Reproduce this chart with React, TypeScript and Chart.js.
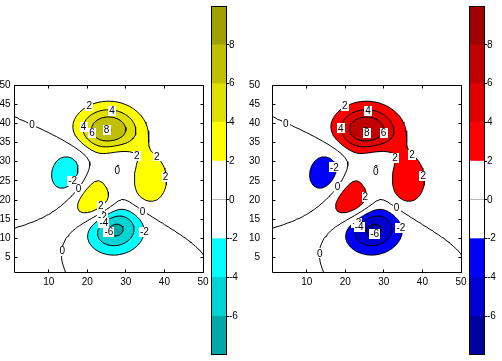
import React, { useEffect, useRef } from 'react';
import { Chart, registerables } from 'chart.js';

Chart.register(...registerables);

const FONT = { family: '"Liberation Sans", Arial, Helvetica, sans-serif', size: 10 };

const X_TICKS = [10, 20, 30, 40, 50];
const Y_TICKS = [5, 10, 15, 20, 25, 30, 35, 40, 45, 50];
const AXIS_RANGE = [1, 50];

const LEVELS = [-6, -4, -2, 0, 2, 4, 6, 8];
const BAND_EDGES = [-8, -6, -4, -2, 0, 2, 4, 6, 8, 10];
const COLORBAR_TICKS = [-6, -4, -2, 0, 2, 4, 6, 8];
const LEFT_COLORS = ['#00a8a8', '#00d4d4', '#00ffff', '#ffffff', '#ffffff', '#ffff00', '#e0e000', '#c0c000', '#a0a000'];
const RIGHT_COLORS = ['#0000a0', '#0000d0', '#0000ff', '#ffffff', '#ffffff', '#ff0000', '#e00000', '#c00000', '#a00000'];

const GRID_SIZE = 50;
const DOMAIN = [-3, 3];
function peaks(x: number, y: number): number {
  return (
    3 * (1 - x) ** 2 * Math.exp(-x * x - (y + 1) ** 2) -
    10 * (x / 5 - x ** 3 - y ** 5) * Math.exp(-x * x - y * y) -
    (1 / 3) * Math.exp(-((x + 1) ** 2) - y * y)
  );
}

const LEFT_LABELS: [string, number, number][] = [
  ['2', 20.5, 44.5], ['4', 26.4, 43.2], ['4', 19.0, 39.1], ['6', 21.2, 37.6], ['8', 25.0, 38.3],
  ['2', 32.8, 31.6], ['2', 38.0, 31.4], ['2', 40.3, 26.0], ['0', 27.8, 27.7],
  ['-2', 16.2, 25.0], ['0', 17.7, 22.9], ['2', 23.5, 18.5], ['0', 34.3, 16.9],
  ['-2', 23.9, 15.7], ['-4', 24.3, 14.1], ['-6', 25.6, 11.7], ['-2', 34.8, 11.8],
  ['0', 13.5, 6.8], ['0', 5.7, 39.6],
];
const RIGHT_LABELS: [string, number, number][] = [
  ['2', 19.9, 44.6], ['4', 25.9, 43.2], ['4', 18.8, 38.7], ['8', 25.6, 37.6], ['6', 29.9, 37.6],
  ['2', 32.9, 31.0], ['2', 37.3, 31.7], ['2', 40.2, 26.3], ['0', 27.9, 27.4],
  ['-2', 17.2, 28.5], ['0', 18.0, 23.5], ['2', 25.2, 20.9], ['0', 33.3, 18.0],
  ['-2', 23.0, 14.1], ['-4', 23.6, 13.1], ['-6', 27.6, 11.1], ['-2', 34.4, 12.7],
  ['0', 13.4, 6.1], ['0', 4.6, 40.0],
];

function buildGrid(): number[][] {
  const Z: number[][] = [];
  for (let i = 0; i < GRID_SIZE; i++) {
    const yv = DOMAIN[0] + ((DOMAIN[1] - DOMAIN[0]) * i) / (GRID_SIZE - 1);
    const row: number[] = [];
    for (let j = 0; j < GRID_SIZE; j++) {
      const xv = DOMAIN[0] + ((DOMAIN[1] - DOMAIN[0]) * j) / (GRID_SIZE - 1);
      row.push(peaks(xv, yv));
    }
    Z.push(row);
  }
  return Z;
}
const Z = buildGrid();

function sample(x: number, y: number): number {
  const N = GRID_SIZE;
  const gx = Math.min(Math.max(x - 1, 0), N - 1);
  const gy = Math.min(Math.max(y - 1, 0), N - 1);
  const j = Math.min(Math.floor(gx), N - 2);
  const i = Math.min(Math.floor(gy), N - 2);
  const fx = gx - j;
  const fy = gy - i;
  return (
    Z[i][j] * (1 - fx) * (1 - fy) +
    Z[i][j + 1] * fx * (1 - fy) +
    Z[i + 1][j] * (1 - fx) * fy +
    Z[i + 1][j + 1] * fx * fy
  );
}

type Pt = [number, number];

function contourLines(level: number): Pt[][] {
  const N = GRID_SIZE;
  const segs: [Pt, Pt][] = [];
  const edgePt = (i1: number, j1: number, i2: number, j2: number): Pt => {
    const v1 = Z[i1][j1];
    const v2 = Z[i2][j2];
    const t = (level - v1) / (v2 - v1);
    return [j1 + 1 + t * (j2 - j1), i1 + 1 + t * (i2 - i1)];
  };
  for (let i = 0; i < N - 1; i++) {
    for (let j = 0; j < N - 1; j++) {
      const a = Z[i][j], b = Z[i][j + 1], c = Z[i + 1][j + 1], d = Z[i + 1][j];
      const A = a >= level, B = b >= level, C = c >= level, D = d >= level;
      const bottom = A !== B ? edgePt(i, j, i, j + 1) : null;
      const right = B !== C ? edgePt(i, j + 1, i + 1, j + 1) : null;
      const top = D !== C ? edgePt(i + 1, j, i + 1, j + 1) : null;
      const left = A !== D ? edgePt(i, j, i + 1, j) : null;
      const pts = [bottom, right, top, left].filter((p) => p) as Pt[];
      if (pts.length === 2) segs.push([pts[0], pts[1]]);
      else if (pts.length === 4) {
        const center = (a + b + c + d) / 4;
        if ((center >= level) === A) {
          segs.push([bottom!, right!]);
          segs.push([top!, left!]);
        } else {
          segs.push([bottom!, left!]);
          segs.push([right!, top!]);
        }
      }
    }
  }
  const key = (p: Pt) => p[0].toFixed(6) + ',' + p[1].toFixed(6);
  const adj = new Map<string, number[]>();
  segs.forEach((s, k) => {
    for (const p of s) {
      const kk = key(p);
      if (!adj.has(kk)) adj.set(kk, []);
      adj.get(kk)!.push(k);
    }
  });
  const used = new Array(segs.length).fill(false);
  const lines: Pt[][] = [];
  const extend = (line: Pt[], end: Pt, forward: boolean) => {
    let cur = end;
    for (;;) {
      const cand = (adj.get(key(cur)) || []).find((k) => !used[k]);
      if (cand === undefined) break;
      used[cand] = true;
      const s = segs[cand];
      const next = key(s[0]) === key(cur) ? s[1] : s[0];
      if (forward) line.push(next);
      else line.unshift(next);
      cur = next;
    }
  };
  segs.forEach((s, k) => {
    if (used[k]) return;
    used[k] = true;
    const line: Pt[] = [s[0], s[1]];
    extend(line, s[1], true);
    extend(line, s[0], false);
    lines.push(line);
  });
  return lines;
}

const CONTOUR_LINES: Pt[][] = LEVELS.flatMap((lv) => contourLines(lv));

function bandIndex(v: number): number {
  let k = 0;
  for (const lv of LEVELS) if (v >= lv) k++;
  return k;
}

function hexToRgb(h: string): [number, number, number] {
  return [parseInt(h.slice(1, 3), 16), parseInt(h.slice(3, 5), 16), parseInt(h.slice(5, 7), 16)];
}

type ContourProps = {
  colors: string[];
  labels: [string, number, number][];
  left: number;
  canvasWidth: number;
  yWidth: number;
  yPad: number;
};

function ContourChart({ colors, labels, left, canvasWidth, yWidth, yPad }: ContourProps) {
  const ref = useRef<HTMLCanvasElement>(null);
  useEffect(() => {
    const rgb = colors.map(hexToRgb);
    const fillPlugin = {
      id: 'contourFill',
      beforeDatasetsDraw(chart: any) {
        const { ctx, chartArea } = chart;
        const xs = chart.scales.x;
        const ys = chart.scales.y;
        const l = Math.round(chartArea.left), t = Math.round(chartArea.top);
        const w = Math.round(chartArea.right) - l;
        const h = Math.round(chartArea.bottom) - t;
        const off = document.createElement('canvas');
        off.width = w;
        off.height = h;
        const octx = off.getContext('2d')!;
        const img = octx.createImageData(w, h);
        for (let py = 0; py < h; py++) {
          const yv = ys.getValueForPixel(t + py + 0.5);
          for (let px = 0; px < w; px++) {
            const xv = xs.getValueForPixel(l + px + 0.5);
            const c = rgb[bandIndex(sample(xv, yv))];
            const o = (py * w + px) * 4;
            img.data[o] = c[0];
            img.data[o + 1] = c[1];
            img.data[o + 2] = c[2];
            img.data[o + 3] = 255;
          }
        }
        octx.putImageData(img, 0, 0);
        ctx.save();
        ctx.drawImage(off, l, t);
        ctx.restore();
      },
    };
    const labelPlugin = {
      id: 'contourLabels',
      afterDatasetsDraw(chart: any) {
        const { ctx } = chart;
        const xs = chart.scales.x;
        const ys = chart.scales.y;
        ctx.save();
        ctx.font = `${FONT.size}px ${FONT.family}`;
        ctx.textAlign = 'center';
        ctx.textBaseline = 'middle';
        for (const [txt, x, y] of labels) {
          const px = xs.getPixelForValue(x);
          const py = ys.getPixelForValue(y);
          const tw = ctx.measureText(txt).width;
          ctx.fillStyle = '#fff';
          ctx.fillRect(Math.round(px - tw / 2 - 1), Math.round(py - 5), Math.ceil(tw + 2), 10);
          ctx.fillStyle = '#000';
          ctx.fillText(txt, px, py + 0.5);
        }
        ctx.restore();
      },
    };
    const boxPlugin = {
      id: 'axesBox',
      afterDraw(chart: any) {
        const { ctx, chartArea } = chart;
        const xs = chart.scales.x;
        const ys = chart.scales.y;
        const L = Math.round(chartArea.left) + 0.5;
        const R = Math.round(chartArea.right) + 0.5;
        const T = Math.round(chartArea.top) + 0.5;
        const B = Math.round(chartArea.bottom) - 0.5;
        ctx.save();
        ctx.strokeStyle = '#000';
        ctx.lineWidth = 1;
        ctx.beginPath();
        ctx.rect(L, T, R - L, B - T);
        const tl = 3;
        for (const v of X_TICKS) {
          const p = Math.floor(xs.getPixelForValue(v)) + 0.5;
          ctx.moveTo(p, B);
          ctx.lineTo(p, B - tl);
          ctx.moveTo(p, T);
          ctx.lineTo(p, T + tl);
        }
        for (const v of Y_TICKS) {
          const p = Math.floor(ys.getPixelForValue(v)) + 0.5;
          ctx.moveTo(L, p);
          ctx.lineTo(L + tl, p);
          ctx.moveTo(R, p);
          ctx.lineTo(R - tl, p);
        }
        ctx.stroke();
        ctx.restore();
      },
    };
    const chart: any = new Chart(ref.current!, {
      type: 'scatter',
      data: {
        datasets: CONTOUR_LINES.map((line) => ({
          data: line.map(([x, y]) => ({ x, y })),
          showLine: true,
          borderColor: '#000',
          borderWidth: 1,
          pointRadius: 0,
          pointHoverRadius: 0,
          tension: 0,
          fill: false,
        })),
      },
      options: {
        responsive: false,
        animation: false,
        events: [],
        layout: { padding: { top: 85, right: 9, left: 0, bottom: 0 } },
        plugins: { legend: { display: false }, tooltip: { enabled: false } },
        scales: {
          x: {
            type: 'linear',
            min: AXIS_RANGE[0],
            max: AXIS_RANGE[1],
            afterBuildTicks: (s: any) => {
              s.ticks = X_TICKS.map((v) => ({ value: v }));
            },
            afterFit: (s: any) => {
              s.height = 27;
            },
            grid: { display: false, drawTicks: false },
            border: { display: false },
            ticks: { color: '#000', font: FONT, padding: 3, maxRotation: 0, autoSkip: false },
          },
          y: {
            type: 'linear',
            min: AXIS_RANGE[0],
            max: AXIS_RANGE[1],
            afterBuildTicks: (s: any) => {
              s.ticks = Y_TICKS.map((v) => ({ value: v }));
            },
            afterFit: (s: any) => {
              s.width = yWidth;
            },
            grid: { display: false, drawTicks: false },
            border: { display: false },
            ticks: { color: '#000', font: FONT, padding: yPad, autoSkip: false },
          },
        },
      },
      plugins: [fillPlugin, labelPlugin, boxPlugin],
    } as any);
    return () => chart.destroy();
  }, []);
  return (
    <canvas
      ref={ref}
      width={canvasWidth}
      height={300}
      style={{ position: 'absolute', left, top: 0, width: canvasWidth, height: 300, display: 'block' }}
    />
  );
}

function ColorBar({ colors, left, width }: { colors: string[]; left: number; width: number }) {
  const ref = useRef<HTMLCanvasElement>(null);
  useEffect(() => {
    const boxPlugin = {
      id: 'cbBox',
      afterDraw(chart: any) {
        const { ctx, chartArea } = chart;
        ctx.save();
        ctx.strokeStyle = '#000';
        ctx.lineWidth = 1;
        const L = Math.round(chartArea.left) + 0.5;
        const R = Math.round(chartArea.right) - 0.5;
        const T = Math.round(chartArea.top) + 0.5;
        const B = Math.round(chartArea.bottom) - 0.5;
        ctx.strokeRect(L, T, R - L, B - T);
        ctx.restore();
      },
    };
    const chart = new Chart(ref.current!, {
      type: 'bar',
      data: {
        labels: [''],
        datasets: BAND_EDGES.slice(0, -1).map((lo, k) => ({
          data: [[lo, BAND_EDGES[k + 1]]],
          backgroundColor: colors[k],
          borderWidth: 0,
          barPercentage: 1,
          categoryPercentage: 1,
          grouped: false,
        })),
      },
      options: {
        responsive: false,
        animation: false,
        events: [],
        layout: { padding: { left: 11, top: 3, bottom: 6, right: 0 } },
        plugins: { legend: { display: false }, tooltip: { enabled: false } },
        scales: {
          x: { display: false },
          y: {
            position: 'right',
            min: BAND_EDGES[0],
            max: BAND_EDGES[BAND_EDGES.length - 1],
            z: 1,
            afterBuildTicks: (s: any) => {
              s.ticks = COLORBAR_TICKS.map((v) => ({ value: v }));
            },
            afterFit: (s: any) => {
              s.width = width - 27;
            },
            grid: { color: '#000', lineWidth: 1, drawOnChartArea: true, drawTicks: true, tickLength: 2 },
            border: { display: false },
            ticks: { color: '#000', font: FONT, padding: 0, crossAlign: 'near', autoSkip: false },
          },
        },
      },
      plugins: [boxPlugin],
    } as any);
    return () => chart.destroy();
  }, []);
  return (
    <canvas
      ref={ref}
      width={width}
      height={361}
      style={{ position: 'absolute', left, top: 0, width, height: 361, display: 'block' }}
    />
  );
}

export default function App() {
  return (
    <div style={{ position: 'absolute', left: 0, top: 0, width: 502, height: 361, background: '#fff' }}>
      <ContourChart colors={LEFT_COLORS} labels={LEFT_LABELS} left={0} canvasWidth={212} yWidth={14} yPad={3.5} />
      <ColorBar colors={LEFT_COLORS} left={200} width={50} />
      <ContourChart colors={RIGHT_COLORS} labels={RIGHT_LABELS} left={246} canvasWidth={224} yWidth={26} yPad={12} />
      <ColorBar colors={RIGHT_COLORS} left={458} width={44} />
    </div>
  );
}
